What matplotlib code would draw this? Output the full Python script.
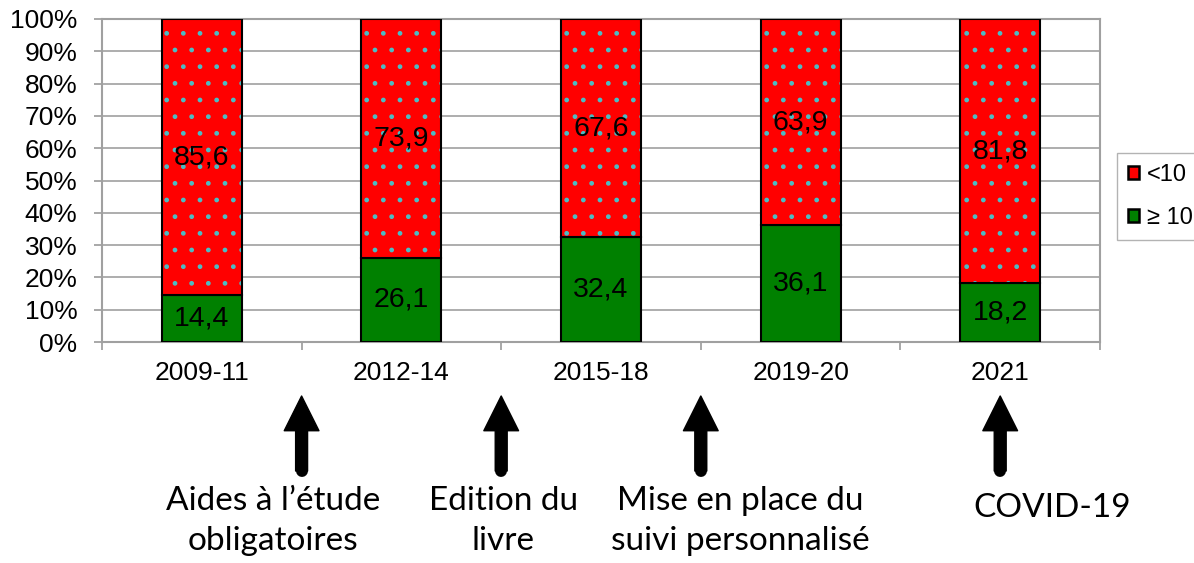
"""Share of results above/below 10 by period, with key events below the axis."""

import matplotlib
matplotlib.use("Agg")
import matplotlib.pyplot as plt
from matplotlib.patches import Patch
from matplotlib.transforms import blended_transform_factory

# Data
periods = ["2009-11", "2012-14", "2015-18", "2019-20", "2021"]
above_10 = [14.4, 26.1, 32.4, 36.1, 18.2]
below_10 = [85.6, 73.9, 67.6, 63.9, 81.8]

# Events shown under the axis (arrow x in category units, text x, label lines)
event_x = [0.5, 1.5, 2.5, 4.0]
event_text_x = [0.355, 1.51, 2.70, 4.26]
event_labels = [["Aides à l’étude", "obligatoires"], ["Edition du", "livre"],
                 ["Mise en place du", "suivi personnalisé"], ["COVID-19"]]

plt.rcParams["font.family"] = ["Liberation Sans", "DejaVu Sans"]

fig = plt.figure(figsize=(11.94, 5.63), dpi=100)
ax = fig.add_axes([102 / 1194, 1 - 342 / 563, 998 / 1194, 323 / 563])

x = list(range(len(periods)))
width = 0.4

# green part
ax.bar(x, above_10, width, color="#008000", edgecolor="black", linewidth=1.5, zorder=3)
# red part with dotted hatch (hatch drawn with its own edge colour)
ax.bar(x, below_10, width, bottom=above_10, color="#ff0000",
       edgecolor="#4cbcc4", linewidth=0, hatch=".", zorder=3)
ax.bar(x, below_10, width, bottom=above_10, color="none",
       edgecolor="black", linewidth=1.5, zorder=4)

for xi, g, r in zip(x, above_10, below_10):
    ax.text(xi, g / 2, f"{g:.1f}".replace(".", ","), ha="center", va="center",
            fontsize=20.5, zorder=5)
    ax.text(xi, g + r / 2, f"{r:.1f}".replace(".", ","), ha="center", va="center",
            fontsize=20.5, zorder=5)

ax.set_xlim(-0.5, len(periods) - 0.5)
ax.set_ylim(0, 100)
ax.set_yticks(range(0, 101, 10))
ax.set_yticklabels([f"{v}%" for v in range(0, 101, 10)], fontsize=19)
ax.set_xticks(x)
ax.set_xticklabels(periods, fontsize=19)
ax.tick_params(axis="x", length=0, pad=14)
ax.set_xticks([i + 0.5 for i in range(-1, len(periods))], minor=True)
ax.tick_params(axis="x", which="minor", length=6, color="#999999", width=1.2)
ax.tick_params(axis="y", length=5.8, color="#999999", width=1.2, pad=12)

ax.yaxis.grid(True, color="#a0a0a0", linewidth=1.2, zorder=0)
for side in ["left", "bottom", "right", "top"]:
    ax.spines[side].set_color("#a0a0a0")
    ax.spines[side].set_linewidth(1.5)

handles = [Patch(facecolor="#ff0000", edgecolor="black", linewidth=1.8, label="<10"),
           Patch(facecolor="#008000", edgecolor="black", linewidth=1.8, label="≥ 10")]
fig.legend(handles=handles, loc="upper left", bbox_to_anchor=(1117 / 1194, 1 - 153 / 563),
           fontsize=17, frameon=True, fancybox=False, edgecolor="#a0a0a0",
           handlelength=0.5, handleheight=0.5, handletextpad=0.3,
           labelspacing=0.9, borderpad=0.45, borderaxespad=0)

# Arrows and event labels
trans = blended_transform_factory(ax.transData, fig.transFigure)
for ex in event_x:
    ax.annotate("", xy=(ex, 1 - 396 / 563), xytext=(ex, 1 - 471 / 563),
                xycoords=trans, textcoords=trans, annotation_clip=False,
                arrowprops=dict(facecolor="black", edgecolor="black",
                                width=8.6, headwidth=25, headlength=25, shrink=0))
    # rounded tail of the shaft
    ax.plot([ex, ex], [1 - 460 / 563, 1 - 471 / 563], transform=trans, color="black",
            lw=8.6, solid_capstyle="round", clip_on=False)
for tx, lines in zip(event_text_x, event_labels):
    baselines = [510, 550] if len(lines) == 2 else [517]
    for line, by in zip(lines, baselines):
        ax.text(tx, 1 - by / 563, line, transform=trans, ha="center", va="baseline",
                fontsize=24, family=["Lato", "DejaVu Sans"])

fig.savefig("out.png", dpi=100)
